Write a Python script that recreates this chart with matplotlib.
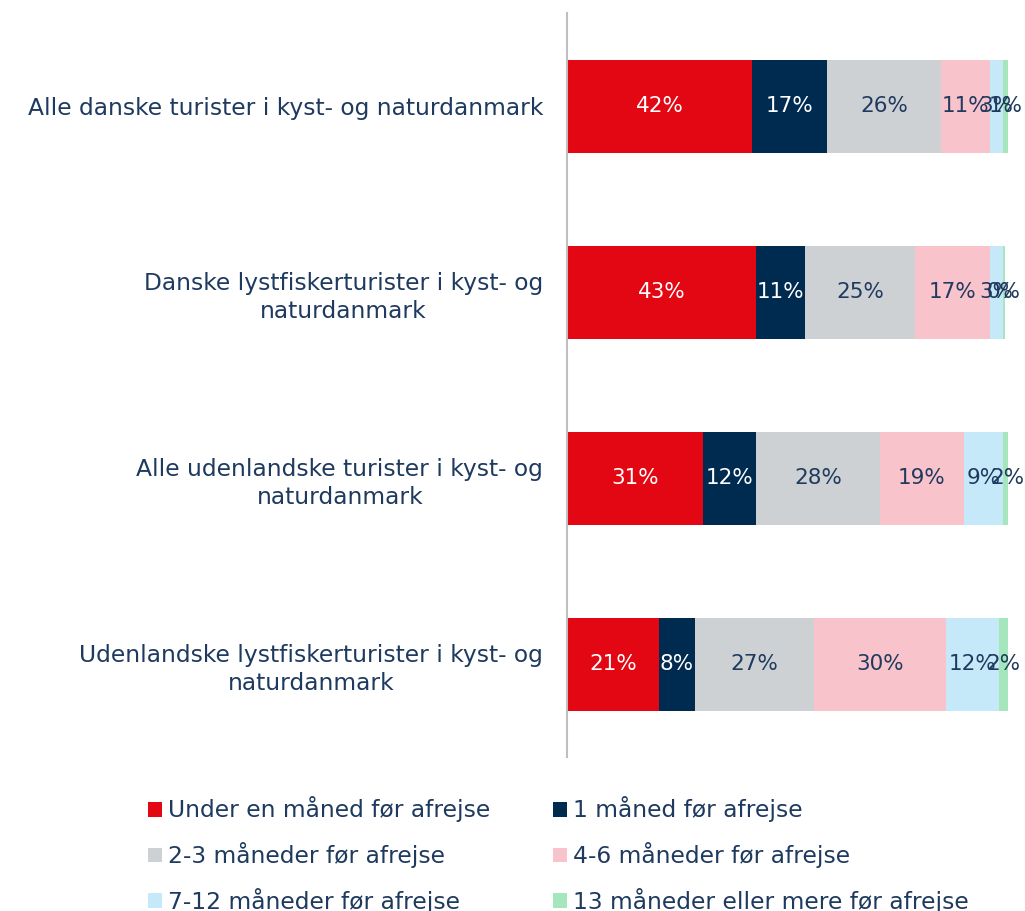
import matplotlib.pyplot as plt

plt.rcParams['font.family'] = ['DejaVu Sans']

categories = ['Alle danske turister i kyst- og naturdanmark',
              'Danske lystfiskerturister i kyst- og\nnaturdanmark',
              'Alle udenlandske turister i kyst- og\nnaturdanmark',
              'Udenlandske lystfiskerturister i kyst- og\nnaturdanmark']
series = ['Under en måned før afrejse', '1 måned før afrejse',
          '2-3 måneder før afrejse', '4-6 måneder før afrejse',
          '7-12 måneder før afrejse', '13 måneder eller mere før afrejse']
under_1 = [42, 43, 31, 21]
one_month = [17, 11, 12, 8]
m2_3 = [26, 25, 28, 27]
m4_6 = [11, 17, 19, 30]
m7_12 = [3, 3, 9, 12]
m13 = [1, 0.4, 2, 2]
values = [under_1, one_month, m2_3, m4_6, m7_12, m13]

colors = ['#E30613', '#002B50', '#CED1D3', '#F9C3CB', '#C6E9FA', '#A6E6BC']
navy = '#1F3A5F'
text_colors = ['white', 'white', navy, navy, navy, navy]

fig = plt.figure(figsize=(10.25, 9.11), dpi=100)
ax = fig.add_axes([0.553, 0.169, 0.430, 0.8167])

y = list(range(len(categories)))
left = [0] * len(categories)
handles = []
for vals, name, col, tcol in zip(values, series, colors, text_colors):
    bars = ax.barh(y, vals, left=left, height=0.5, color=col, label=name)
    handles.append(bars)
    for i, v in enumerate(vals):
        ax.text(left[i] + v / 2, y[i], '%d%%' % round(v), ha='center', va='center',
                color=tcol, fontsize=15.5)
    left = [l + v for l, v in zip(left, vals)]

ax.set_xlim(0, 100)
ax.set_ylim(3.5, -0.5)
ax.set_yticks(y)
ax.set_yticklabels(categories, fontsize=16.8, color=navy, ha='right',
                   multialignment='center', linespacing=1.3)
ax.tick_params(axis='y', length=0, pad=17)
ax.set_xticks([])
for s in ['top', 'right', 'bottom']:
    ax.spines[s].set_visible(False)
ax.spines['left'].set_color('#BFBFBF')
ax.spines['left'].set_linewidth(1.5)

# legend filled row by row
order = [0, 2, 4, 1, 3, 5]
leg = fig.legend([handles[i] for i in order], [series[i] for i in order],
                 loc='upper left', bbox_to_anchor=(0.135, 0.136), ncol=2, frameon=False,
                 fontsize=16.8, handlelength=0.6, handleheight=0.6, handletextpad=0.25,
                 columnspacing=2.7, labelspacing=0.85, borderaxespad=0)
for t in leg.get_texts():
    t.set_color(navy)

fig.savefig('out.png', dpi=100)
